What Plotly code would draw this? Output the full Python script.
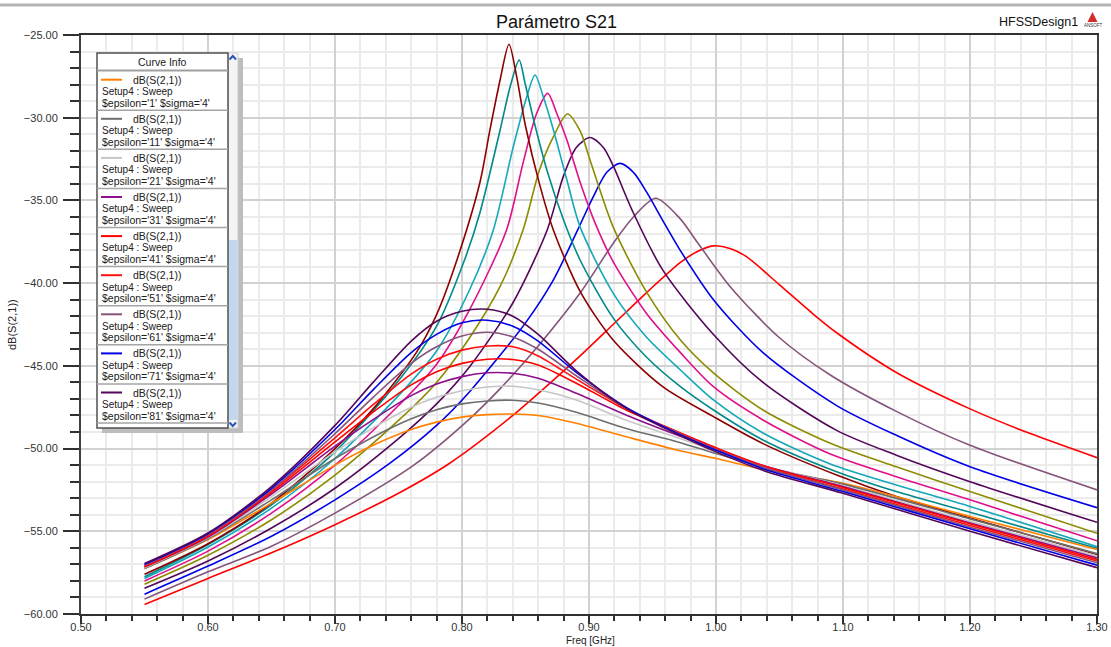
import plotly.graph_objects as go

# ---------------- data ----------------
# sigma = 4 family (broad peaks); common frequency grid in GHz
freq_low = [0.55, 0.60, 0.65, 0.70, 0.73, 0.76, 0.78, 0.80, 0.82, 0.84, 0.86, 0.89,
            0.93, 0.97, 1.00, 1.04, 1.10, 1.20, 1.30]
s21_eps1_s4 = [-57.25, -55.5, -53.3, -51.0, -49.8, -48.85, -48.4, -48.1, -47.95, -47.91, -48.0, -48.47,
               -49.3, -50.1, -50.6, -51.3, -52.1, -54.1, -56.1]
s21_eps11_s4 = [-57.25, -55.45, -53.1, -50.6, -49.3, -48.2, -47.65, -47.3, -47.12, -47.08, -47.25, -47.81,
                -48.8, -49.6, -50.3, -51.15, -52.15, -54.25, -56.35]
s21_eps21_s4 = [-57.2, -55.4, -52.9, -50.2, -48.75, -47.5, -46.9, -46.5, -46.28, -46.23, -46.45, -47.06,
                -48.3, -49.35, -50.15, -51.1, -52.25, -54.4, -56.5]
s21_eps31_s4 = [-57.15, -55.35, -52.75, -49.85, -48.25, -46.8, -46.1, -45.65, -45.42, -45.45, -45.75, -46.66,
                -48.0, -49.2, -50.05, -51.1, -52.3, -54.5, -56.6]
s21_eps41_s4 = [-57.15, -55.3, -52.65, -49.6, -47.8, -46.15, -45.35, -44.85, -44.6, -44.62, -44.95, -46.05,
                -47.7, -49.0, -49.95, -51.1, -52.35, -54.55, -56.7]
s21_eps51_s4 = [-57.1, -55.25, -52.55, -49.35, -47.35, -45.5, -44.6, -44.05, -43.8, -43.85, -44.4, -45.8,
                -47.6, -49.0, -50.0, -51.15, -52.45, -54.65, -56.8]
s21_eps61_s4 = [-57.05, -55.2, -52.5, -49.1, -46.9, -44.85, -43.85, -43.2, -42.97, -43.25, -44.0, -45.6,
                -47.6, -49.05, -50.05, -51.2, -52.5, -54.75, -56.9]
s21_eps71_s4 = [-57.0, -55.15, -52.4, -48.85, -46.45, -44.2, -43.1, -42.4, -42.24, -42.6, -43.5, -45.4,
                -47.55, -49.1, -50.1, -51.3, -52.6, -54.85, -57.05]
s21_eps81_s4 = [-56.95, -55.1, -52.3, -48.6, -46.0, -43.5, -42.3, -41.7, -41.58, -42.0, -43.1, -45.3,
                -47.6, -49.15, -50.2, -51.4, -52.7, -55.0, -57.2]

# sharp-peak family (other sweep), one frequency list per curve
freq_sharp_a = [0.55, 0.60, 0.65, 0.70, 0.75, 0.79, 0.84, 0.87, 0.893, 0.919, 0.945, 0.972, 0.985,
                0.998, 1.011, 1.024, 1.05, 1.077, 1.095, 1.142, 1.20, 1.247, 1.30]
s21_sharp_a = [-59.43, -57.85, -56.3, -54.6, -52.7, -50.9, -48.0, -46.0, -44.4, -42.5, -40.6, -38.75,
               -38.1, -37.75, -37.9, -38.4, -40.1, -41.9, -43.0, -45.4, -47.6, -49.08, -50.55]
freq_sharp_b = [0.55, 0.60, 0.65, 0.70, 0.762, 0.806, 0.831, 0.86, 0.893, 0.919, 0.935, 0.9525, 0.9717,
                0.985, 1.011, 1.05, 1.09, 1.142, 1.20, 1.30]
s21_sharp_b = [-59.1, -57.45, -55.9, -53.9, -51.0, -48.2, -46.3, -43.8, -40.6, -37.6, -36.0, -34.87, -36.1,
               -37.5, -40.2, -43.3, -45.55, -47.75, -49.8, -52.5]
freq_sharp_c = [0.55, 0.60, 0.65, 0.70, 0.743, 0.78, 0.806, 0.85, 0.872, 0.891, 0.9034, 0.914, 0.9244,
                0.935, 0.9454, 0.958, 0.9717, 0.998, 1.037, 1.095, 1.142, 1.20, 1.30]
s21_sharp_c = [-58.8, -57.1, -55.3, -53.1, -50.9, -48.6, -46.56, -42.4, -39.8, -36.8, -34.77, -33.3, -32.76,
               -33.3, -34.5, -36.2, -38.0, -41.0, -44.2, -47.4, -49.2, -51.1, -53.57]
freq_sharp_d = [0.55, 0.60, 0.65, 0.70, 0.75, 0.78, 0.806, 0.84, 0.867, 0.880, 0.890, 0.9008, 0.9113,
                0.919, 0.934, 0.958, 0.998, 1.037, 1.095, 1.142, 1.20, 1.30]
s21_sharp_d = [-58.45, -56.8, -54.8, -52.4, -49.4, -47.3, -45.05, -41.2, -36.8, -33.5, -31.8, -31.2, -31.8,
               -32.9, -35.6, -39.2, -43.1, -46.0, -48.9, -50.4, -52.0, -54.46]
freq_sharp_e = [0.55, 0.60, 0.65, 0.70, 0.75, 0.78, 0.806, 0.83, 0.848, 0.861, 0.872, 0.883, 0.893, 0.901,
                0.919, 0.945, 0.972, 0.998, 1.037, 1.09, 1.142, 1.20, 1.30]
s21_sharp_e = [-58.2, -56.45, -54.3, -51.6, -48.3, -46.0, -43.3, -40.2, -36.8, -33.16, -31.15, -29.78, -30.8,
               -32.6, -36.6, -40.5, -43.44, -45.43, -47.67, -49.68, -51.1, -52.6, -55.12]
freq_sharp_f = [0.55, 0.60, 0.65, 0.70, 0.75, 0.78, 0.806, 0.835, 0.848, 0.8588, 0.8675, 0.8746, 0.8826,
                0.893, 0.905, 0.919, 0.945, 0.972, 0.998, 1.037, 1.09, 1.142, 1.20, 1.30]
s21_sharp_f = [-58.0, -56.2, -53.9, -51.0, -47.4, -44.9, -41.6, -36.8, -32.76, -29.73, -28.53, -29.73, -31.35,
               -33.9, -36.4, -38.7, -41.8, -44.2, -46.26, -48.27, -50.33, -51.7, -53.1, -55.57]
freq_sharp_g = [0.55, 0.60, 0.65, 0.70, 0.75, 0.78, 0.806, 0.8246, 0.8404, 0.851, 0.8575, 0.864, 0.872,
                0.8826, 0.893, 0.919, 0.945, 0.972, 0.998, 1.037, 1.09, 1.142, 1.20, 1.30]
s21_sharp_g = [-57.85, -55.95, -53.6, -50.6, -46.8, -44.1, -40.4, -36.8, -31.75, -28.73, -27.42, -28.73, -30.74,
               -33.77, -36.6, -40.6, -43.24, -45.25, -47.06, -49.06, -50.93, -52.2, -53.5, -55.93]
freq_sharp_h = [0.55, 0.60, 0.65, 0.70, 0.75, 0.78, 0.802, 0.814, 0.830, 0.838, 0.845, 0.8496, 0.856,
                0.867, 0.881, 0.893, 0.919, 0.945, 0.972, 0.998, 1.037, 1.095, 1.142, 1.20, 1.30]
s21_sharp_h = [-57.75, -55.8, -53.4, -50.2, -45.9, -42.6, -38.6, -35.77, -30.74, -28.1, -26.51, -27.9, -30.0,
               -33.2, -36.4, -38.6, -42.1, -44.45, -46.26, -47.67, -49.48, -51.4, -52.6, -53.85, -56.03]
freq_sharp_i = [0.55, 0.60, 0.65, 0.70, 0.73, 0.764, 0.78, 0.796, 0.814, 0.822, 0.830, 0.837, 0.843, 0.850,
                0.861, 0.872, 0.893, 0.919, 0.958, 0.998, 1.037, 1.095, 1.142, 1.20, 1.30]
s21_sharp_i = [-57.6, -55.75, -53.3, -50.0, -47.6, -44.2, -41.9, -38.6, -33.95, -30.74, -27.72, -25.56, -27.5,
               -30.5, -34.0, -36.8, -40.5, -43.44, -46.26, -48.07, -49.7, -51.6, -52.9, -54.2, -56.4]

# legend / labels
trace_name = "dB(S(2,1))"
sweep_name = "Setup4 : Sweep"
legend_eps = ["1", "11", "21", "31", "41", "51", "61", "71", "81"]
legend_sigma = "4"
low_colors = ["#FF8000", "#6E6E6E", "#C6C6C6", "#8E0E8E", "#FF0000", "#FF1010", "#86547A", "#0000E6", "#54075A"]
sharp_colors = ["#FF0000", "#86547A", "#0000E6", "#54075A", "#8C8C00", "#E0108A", "#14A8BA", "#008A8A", "#8C0000"]
title_text = "Parámetro S21"
design_text = "HFSSDesign1"
x_title = "Freq [GHz]"
y_title = "dB(S(2,1))"

low_series = [s21_eps1_s4, s21_eps11_s4, s21_eps21_s4, s21_eps31_s4, s21_eps41_s4,
              s21_eps51_s4, s21_eps61_s4, s21_eps71_s4, s21_eps81_s4]
sharp_series = [(freq_sharp_a, s21_sharp_a), (freq_sharp_b, s21_sharp_b), (freq_sharp_c, s21_sharp_c),
                (freq_sharp_d, s21_sharp_d), (freq_sharp_e, s21_sharp_e), (freq_sharp_f, s21_sharp_f),
                (freq_sharp_g, s21_sharp_g), (freq_sharp_h, s21_sharp_h), (freq_sharp_i, s21_sharp_i)]

FONT = "Liberation Sans, Arial, sans-serif"

# ---------------- figure ----------------
fig = go.Figure()
for (fx, fy), col in zip(sharp_series, sharp_colors):
    fig.add_trace(go.Scatter(x=fx, y=fy, mode="lines", name=trace_name, showlegend=False,
                             line=dict(color=col, width=1.6, shape="spline", smoothing=0.8),
                             hoverinfo="skip"))
for ys, col, eps in zip(low_series, low_colors, legend_eps):
    fig.add_trace(go.Scatter(x=freq_low, y=ys, mode="lines",
                             name=f"{trace_name} eps={eps} sigma={legend_sigma}", showlegend=False,
                             line=dict(color=col, width=1.6, shape="spline", smoothing=0.8),
                             hoverinfo="skip"))

# plot-area pixel box
L, R, T, B = 81, 1097, 35, 614
W, H = 1111, 647


def px(x):
    return (x - L) / (R - L)


def py(y):
    return (B - y) / (B - T)


shapes = []
annotations = []

# top window strip
shapes.append(dict(type="line", xref="paper", yref="paper", x0=px(0), x1=px(W), y0=py(5), y1=py(5),
                   line=dict(color="#b4b4b4", width=3)))

# ---- Curve Info panel ----
box_l, box_r, box_t, box_b = 97, 228, 53, 428
shapes.append(dict(type="rect", xref="paper", yref="paper", x0=px(238), x1=px(243), y0=py(58), y1=py(433),
                   fillcolor="#bdbdbd", line=dict(width=0), layer="above"))
shapes.append(dict(type="rect", xref="paper", yref="paper", x0=px(102), x1=px(243), y0=py(428), y1=py(433),
                   fillcolor="#bdbdbd", line=dict(width=0), layer="above"))
shapes.append(dict(type="rect", xref="paper", yref="paper", x0=px(228), x1=px(238), y0=py(53), y1=py(428),
                   fillcolor="#f4f4f4", line=dict(color="#d0d0d0", width=1), layer="above"))
shapes.append(dict(type="rect", xref="paper", yref="paper", x0=px(229), x1=px(237.5), y0=py(240), y1=py(420),
                   fillcolor="#c3d6f0", line=dict(width=0), layer="above"))
shapes.append(dict(type="path", xref="paper", yref="paper",
                   path=f"M {px(229.5)},{py(59.5)} L {px(232.8)},{py(56)} L {px(236)},{py(59.5)}",
                   line=dict(color="#2b55c0", width=2), layer="above"))
shapes.append(dict(type="path", xref="paper", yref="paper",
                   path=f"M {px(229.5)},{py(422.5)} L {px(232.8)},{py(426)} L {px(236)},{py(422.5)}",
                   line=dict(color="#2b55c0", width=2), layer="above"))
shapes.append(dict(type="rect", xref="paper", yref="paper", x0=px(box_l), x1=px(box_r), y0=py(box_t),
                   y1=py(box_b), fillcolor="white", line=dict(color="#505050", width=1.5), layer="above"))
annotations.append(dict(xref="paper", yref="paper", x=px(162), y=py(62), text="Curve Info", showarrow=False,
                        xanchor="center", yanchor="middle", font=dict(family=FONT, size=10.5, color="#202020")))
shapes.append(dict(type="line", xref="paper", yref="paper", x0=px(box_l), x1=px(box_r), y0=py(70.5),
                   y1=py(70.5), line=dict(color="#a0a0a0", width=2), layer="above"))

period = 39.1
for k, (eps, col) in enumerate(zip(legend_eps, low_colors)):
    y1 = 79.7 + period * k
    shapes.append(dict(type="line", xref="paper", yref="paper", x0=px(101), x1=px(122), y0=py(y1), y1=py(y1),
                       line=dict(color=col, width=2), layer="above"))
    annotations.append(dict(xref="paper", yref="paper", x=px(131), y=py(y1), text=trace_name, showarrow=False,
                            xanchor="left", yanchor="middle",
                            font=dict(family=FONT, size=10.5, color="#202020")))
    annotations.append(dict(xref="paper", yref="paper", x=px(100), y=py(y1 + 11.8), text=sweep_name,
                            showarrow=False, xanchor="left", yanchor="middle",
                            font=dict(family=FONT, size=10, color="#202020")))
    annotations.append(dict(xref="paper", yref="paper", x=px(100), y=py(y1 + 23.0),
                            text=f"$epsilon='{eps}' $sigma='{legend_sigma}'", showarrow=False,
                            xanchor="left", yanchor="middle",
                            font=dict(family=FONT, size=10.5, color="#202020")))
    ysep = 110.2 + period * k
    shapes.append(dict(type="line", xref="paper", yref="paper", x0=px(box_l), x1=px(box_r), y0=py(ysep),
                       y1=py(ysep), line=dict(color="#a4a4a4", width=1.5), layer="above"))

# titles
annotations.append(dict(xref="paper", yref="paper", x=px(556.5), y=py(22), text=title_text, showarrow=False,
                        xanchor="center", yanchor="middle", font=dict(family=FONT, size=18, color="#111111")))
annotations.append(dict(xref="paper", yref="paper", x=px(1038), y=py(22), text=design_text, showarrow=False,
                        xanchor="center", yanchor="middle", font=dict(family=FONT, size=12.5, color="#111111")))
shapes.append(dict(type="path", xref="paper", yref="paper",
                   path=f"M {px(1087.5)},{py(22)} L {px(1092.5)},{py(12)} L {px(1097.5)},{py(22)} Z",
                   fillcolor="#d42a2a", line=dict(width=0)))
annotations.append(dict(xref="paper", yref="paper", x=px(1093), y=py(25.5), text="ANSOFT", showarrow=False,
                        xanchor="center", yanchor="middle", font=dict(family=FONT, size=4.5, color="#333333")))
annotations.append(dict(xref="paper", yref="paper", x=px(590), y=py(640), text=x_title, showarrow=False,
                        xanchor="center", yanchor="middle", font=dict(family=FONT, size=10, color="#222222")))
annotations.append(dict(xref="paper", yref="paper", x=px(12), y=py(325), text=y_title, showarrow=False,
                        textangle=-90, xanchor="center", yanchor="middle",
                        font=dict(family=FONT, size=11, color="#222222")))

fig.update_layout(
    width=W, height=H, autosize=False,
    margin=dict(l=L, r=W - R, t=T, b=H - B, pad=0),
    paper_bgcolor="white", plot_bgcolor="white", showlegend=False,
    font=dict(family=FONT, size=11, color="#333333"),
    xaxis=dict(range=[0.5, 1.3], tick0=0.5, dtick=0.1, tickformat=".2f", showline=True, linecolor="#303030",
               linewidth=2, mirror=True, ticks="outside", ticklen=8, tickwidth=1.5, tickcolor="#303030",
               showgrid=True, gridcolor="#d2d2d2", gridwidth=2, zeroline=False, automargin=False,
               ticklabelstandoff=-6,
               tickfont=dict(family=FONT, size=11, color="#333333"),
               minor=dict(tick0=0.5, dtick=0.02, ticks="outside", ticklen=5, tickwidth=1.5, tickcolor="#303030",
                          showgrid=True, gridcolor="#ebebeb", gridwidth=1.5)),
    yaxis=dict(range=[-60, -25], tick0=-60, dtick=5, tickformat=".2f", showline=True, linecolor="#404040",
               linewidth=2, mirror=True, ticks="outside", ticklen=16, tickwidth=1.5, tickcolor="#303030",
               showgrid=True, gridcolor="#d2d2d2", gridwidth=2, zeroline=False, automargin=False,
               ticklabelstandoff=3,
               tickfont=dict(family=FONT, size=11, color="#333333"),
               minor=dict(tick0=-60, dtick=1, ticks="outside", ticklen=9, tickwidth=1.5, tickcolor="#303030",
                          showgrid=True, gridcolor="#ebebeb", gridwidth=1.5)),
    shapes=shapes, annotations=annotations,
)

fig.write_html("out.html")
